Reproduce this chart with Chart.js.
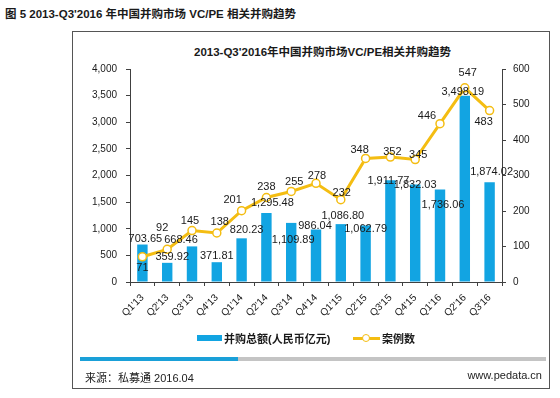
<!DOCTYPE html>
<html>
<head>
<meta charset="utf-8">
<script src="https://cdn.jsdelivr.net/npm/chart.js@4.4.0/dist/chart.umd.min.js"></script>
<style>
    html, body { margin: 0; padding: 0; background: #fff; }
    body { width: 560px; height: 398px; position: relative; overflow: hidden;
           font-family: "Liberation Sans", Arial, "Noto Sans CJK SC", sans-serif; color: #1a1a1a; }
    .abs { position: absolute; white-space: nowrap; }
    #page-title { left: 5px; top: 5px; font-size: 11.5px; font-weight: bold; }
    #frame { left: 72px; top: 31px; width: 478px; height: 358px; border: 1px solid #555; box-sizing: border-box; }
    #chart-title { left: 194px; top: 43px; font-size: 11.5px; font-weight: bold; }
    #chart { position: absolute; left: 0; top: 0; }
    .lg-text { font-size: 11px; font-weight: bold; top: 330px; }
    #lg-bar { left: 197px; top: 335px; width: 25px; height: 6px; background: #12A4E2; }
    #lg-line { left: 353px; top: 337px; width: 27px; height: 3px; background: #F4BD12; }
    #lg-dot { left: 362px; top: 334px; width: 6px; height: 6px; border: 1.5px solid #F4BD12; border-radius: 50%; background: #fff; }
    #foot-blue { left: 80px; top: 357px; width: 158px; height: 4px; background: #1AA0D8; }
    #foot-gray { left: 238px; top: 357px; width: 308px; height: 4px; background: #C4C4C4; }
    .foot-text { font-size: 11px; top: 369px; color: #222; }
</style>
</head>
<body>
<div id="page-title" class="abs">图 5 2013-Q3'2016 年中国并购市场 VC/PE 相关并购趋势</div>
<div id="frame" class="abs"></div>
<div id="chart-title" class="abs">2013-Q3'2016年中国并购市场VC/PE相关并购趋势</div>
<canvas id="chart" width="560" height="398"></canvas>
<div id="lg-bar" class="abs"></div>
<div class="abs lg-text" style="left:224px">并购总额(人民币亿元)</div>
<div id="lg-line" class="abs"></div>
<div id="lg-dot" class="abs"></div>
<div class="abs lg-text" style="left:382px">案例数</div>
<div id="foot-blue" class="abs"></div>
<div id="foot-gray" class="abs"></div>
<div class="abs foot-text" style="left:85px">来源：私募通 2016.04</div>
<div class="abs foot-text" style="right:18px">www.pedata.cn</div>

<script>
// Quarter labels
const quarters = ["Q1'13", "Q2'13", "Q3'13", "Q4'13", "Q1'14", "Q2'14", "Q3'14", "Q4'14",
                  "Q1'15", "Q2'15", "Q3'15", "Q4'15", "Q1'16", "Q2'16", "Q3'16"];

// M&A amount (RMB 100m) - bars, left axis
const dealAmount = [703.65, 359.92, 668.46, 371.81, 820.23, 1295.48, 1109.89, 986.04,
                    1086.80, 1062.79, 1911.77, 1832.03, 1736.06, 3498.19, 1874.02];

// Number of cases - line, right axis
const caseCount = [71, 92, 145, 138, 201, 238, 255, 278, 232, 348, 352, 345, 446, 547, 483];

// Axis ticks
const leftTicks = [0, 500, 1000, 1500, 2000, 2500, 3000, 3500, 4000];
const rightTicks = [0, 100, 200, 300, 400, 500, 600];

// Data label nudges (px) relative to bar top / point
const barLabelDx = [3, 5, -11, 0, 5, 6, 2, -1, 2, 0, -2, 0, 3, -2, 2];
const barLabelDy = [-6, -6, -6, -6, -8, -10, 17, -4, -8, 4, 1, 1, 15, -4, -10];
const lineLabelDx = [0, -5, -2, 3, -9, 0, 3, 1, 1, -6, 2, 3, -13, 3, -6];
const lineLabelDy = [11, -21, -10, -11, -11, -11, -10, -7, -7, -8, -5, -5, -8, -15, 11];

const BAR_COLOR = '#12A4E2';
const LINE_COLOR = '#F4BD12';
const AXIS_COLOR = '#404040';
const TEXT_COLOR = '#1a1a1a';
const FONT = '"Liberation Sans", Arial, sans-serif';

// thousands separator, optional fixed decimals
function fmt(v, dec) {
    const parts = v.toFixed(dec).split('.');
    parts[0] = parts[0].replace(/\B(?=(\d{3})+(?!\d))/g, ',');
    return parts.join('.');
}

const dataLabels = {
    id: 'dataLabels',
    afterDatasetsDraw(chart) {
        const ctx = chart.ctx;
        ctx.save();
        ctx.font = '11px ' + FONT;
        ctx.fillStyle = TEXT_COLOR;
        ctx.textAlign = 'center';
        ctx.textBaseline = 'middle';

        const bars = chart.getDatasetMeta(0).data;
        bars.forEach((el, i) => {
            ctx.fillText(fmt(dealAmount[i], 2), el.x + barLabelDx[i], el.y + barLabelDy[i]);
        });

        const points = chart.getDatasetMeta(1).data;
        points.forEach((el, i) => {
            ctx.fillText(String(caseCount[i]), el.x + lineLabelDx[i], el.y + lineLabelDy[i]);
        });
        ctx.restore();
    }
};

function fixWidth(w) {
    return scale => { scale.width = w; };
}

new Chart(document.getElementById('chart'), {
    type: 'bar',
    data: {
        labels: quarters,
        datasets: [{
            type: 'bar',
            label: '并购总额(人民币亿元)',
            data: dealAmount,
            backgroundColor: BAR_COLOR,
            barPercentage: 0.42,
            categoryPercentage: 1,
            yAxisID: 'y',
            order: 2
        }, {
            type: 'line',
            label: '案例数',
            data: caseCount,
            borderColor: LINE_COLOR,
            borderWidth: 3,
            pointRadius: 4,
            pointBorderWidth: 1.5,
            pointBackgroundColor: '#fff',
            pointBorderColor: LINE_COLOR,
            tension: 0,
            yAxisID: 'y1',
            order: 1
        }]
    },
    options: {
        responsive: false,
        animation: false,
        events: [],
        layout: { padding: { left: 80, right: 18, top: 69, bottom: 74 } },
        plugins: {
            legend: { display: false },
            title: { display: false },
            tooltip: { enabled: false }
        },
        scales: {
            x: {
                offset: true,
                afterFit: scale => { scale.height = 42; },
                border: { display: true, color: AXIS_COLOR, width: 1 },
                grid: { display: true, drawOnChartArea: false, drawTicks: true, tickLength: 4, color: AXIS_COLOR, offset: true },
                ticks: { color: TEXT_COLOR, font: { size: 10, family: FONT }, minRotation: 45, maxRotation: 45, padding: 6, autoSkip: false }
            },
            y: {
                position: 'left',
                min: 0,
                max: 4000,
                afterFit: fixWidth(50),
                afterBuildTicks: scale => { scale.ticks = leftTicks.map(v => ({ value: v })); },
                border: { display: true, color: AXIS_COLOR, width: 1 },
                grid: { display: true, drawOnChartArea: false, drawTicks: true, tickLength: 4, color: AXIS_COLOR },
                ticks: { color: TEXT_COLOR, font: { size: 10, family: FONT }, padding: 9,
                         callback: v => fmt(v, 0) }
            },
            y1: {
                position: 'right',
                min: 0,
                max: 600,
                afterFit: fixWidth(40),
                afterBuildTicks: scale => { scale.ticks = rightTicks.map(v => ({ value: v })); },
                border: { display: true, color: AXIS_COLOR, width: 1 },
                grid: { display: true, drawOnChartArea: false, drawTicks: true, tickLength: 4, color: AXIS_COLOR },
                ticks: { color: TEXT_COLOR, font: { size: 10, family: FONT }, padding: 7 }
            }
        }
    },
    plugins: [dataLabels]
});
</script>
</body>
</html>
